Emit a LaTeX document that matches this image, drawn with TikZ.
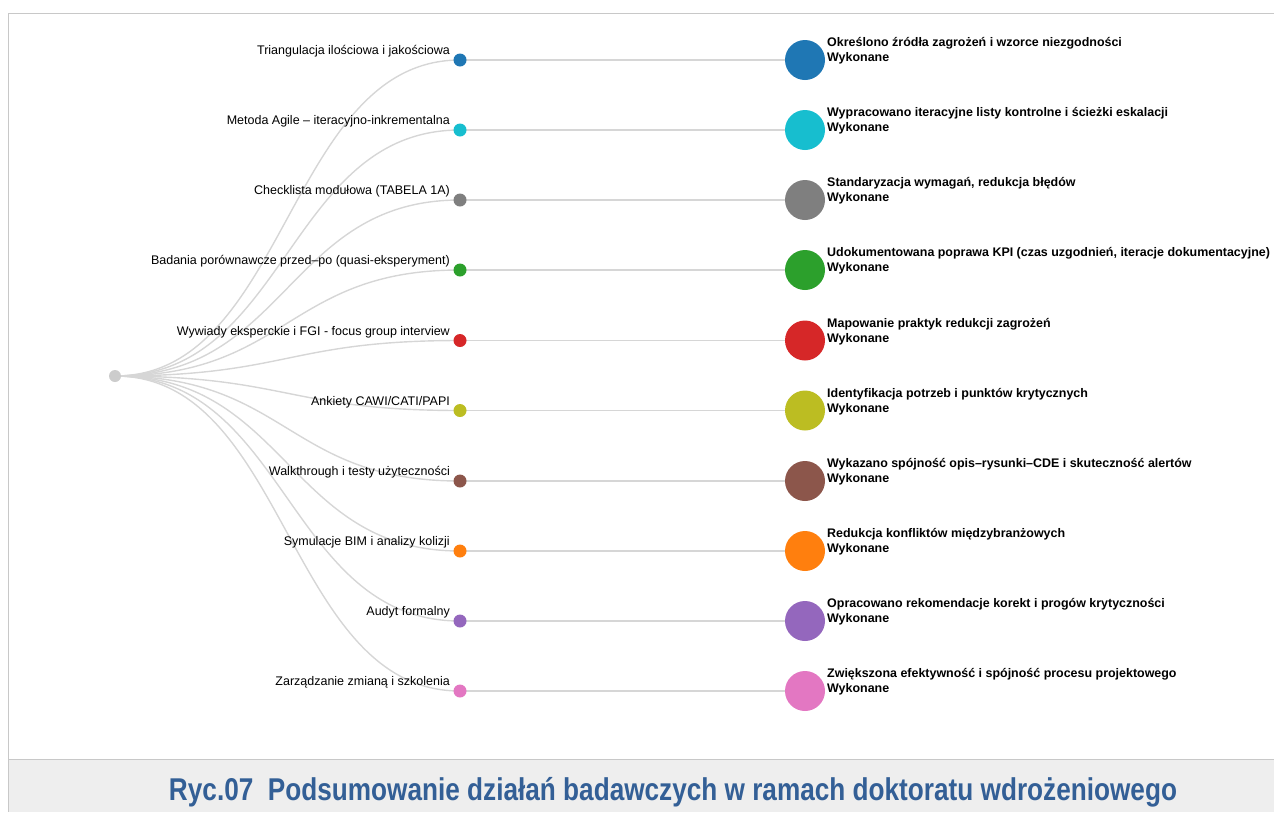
\documentclass[tikz,border=0pt]{standalone}
\usepackage{fontspec}
\setmainfont{Liberation Sans}
\usetikzlibrary{backgrounds}
\definecolor{c1}{HTML}{1F77B4}
\definecolor{c2}{HTML}{17BECF}
\definecolor{c3}{HTML}{7F7F7F}
\definecolor{c4}{HTML}{2CA02C}
\definecolor{c5}{HTML}{D62728}
\definecolor{c6}{HTML}{BCBD22}
\definecolor{c7}{HTML}{8C564B}
\definecolor{c8}{HTML}{FF7F0E}
\definecolor{c9}{HTML}{9467BD}
\definecolor{c10}{HTML}{E377C2}
\definecolor{linkgray}{HTML}{D6D6D6}
\definecolor{rootgray}{HTML}{CCCCCC}
\definecolor{framegray}{HTML}{C8C8C8}
\definecolor{capbg}{HTML}{EEEEEE}
\definecolor{capblue}{HTML}{335F96}
\begin{document}
\begin{tikzpicture}[x=1pt,y=-1pt,
  link/.style={draw=linkgray, line width=1.4pt},
  rootdot/.style={circle, fill=rootgray, minimum size=12pt, inner sep=0pt},
  middot/.style={circle, fill=#1, minimum size=13pt, inner sep=0pt},
  bigdot/.style={circle, fill=#1, minimum size=40pt, inner sep=0pt},
  leftlab/.style={anchor=base east, inner sep=0pt, font=\fontsize{12.5}{14}\selectfont},
  rightlab/.style={anchor=base west, inner sep=0pt, font=\fontsize{12.45}{14}\selectfont\bfseries},
  frame/.style={draw=framegray, line width=1pt},
  captxt/.style={anchor=base, inner sep=0pt, text=capblue, font=\fontsize{31.5}{34}\selectfont\bfseries}
]
\useasboundingbox (0,0) rectangle (1274,812);
\fill[capbg] (8,759) rectangle (1274,812);
\draw[frame] (1274,13) -- (8,13) -- (8,812);
\draw[frame] (8,759) -- (1274,759);
\node[captxt] (cap) at (673,800.5) {\resizebox{1008pt}{\height}{Ryc.07\ \ Podsumowanie działań badawczych w ramach doktoratu wdrożeniowego}};

\node[rootdot] (root) at (115,376) {};

\foreach \i/\y/\lt/\rt in {
  1/60/{Triangulacja ilościowa i jakościowa}/{Określono źródła zagrożeń i wzorce niezgodności},
  2/130/{Metoda Agile – iteracyjno-inkrementalna}/{Wypracowano iteracyjne listy kontrolne i ścieżki eskalacji},
  3/200/{Checklista modułowa (TABELA 1A)}/{Standaryzacja wymagań, redukcja błędów},
  4/270/{Badania porównawcze przed–po (quasi-eksperyment)}/{Udokumentowana poprawa KPI (czas uzgodnień, iteracje dokumentacyjne)},
  5/340.5/{Wywiady eksperckie i FGI - focus group interview}/{Mapowanie praktyk redukcji zagrożeń},
  6/410.5/{Ankiety CAWI/CATI/PAPI}/{Identyfikacja potrzeb i punktów krytycznych},
  7/481/{Walkthrough i testy użyteczności}/{Wykazano spójność opis–rysunki–CDE i skuteczność alertów},
  8/551/{Symulacje BIM i analizy kolizji}/{Redukcja konfliktów międzybranżowych},
  9/621/{Audyt formalny}/{Opracowano rekomendacje korekt i progów krytyczności},
  10/691/{Zarządzanie zmianą i szkolenia}/{Zwiększona efektywność i spójność procesu projektowego}}
{
  \node[middot=c\i] (m\i) at (460,\y) {};
  \node[bigdot=c\i] (b\i) at (805,\y) {};
  \node[leftlab] (l\i) at (450,\y-5.5) {\lt};
  \node[rightlab] (r\i) at (827,\y-13.5) {\rt};
  \node[rightlab] (w\i) at (827,\y+1.5) {Wykonane};
  \begin{scope}[on background layer]
    \draw[link] (root.center) .. controls (287.5,376) and (287.5,\y) .. (m\i.center);
    \draw[link] (m\i.center) -- (b\i.center);
  \end{scope}
}
\end{tikzpicture}
\end{document}
